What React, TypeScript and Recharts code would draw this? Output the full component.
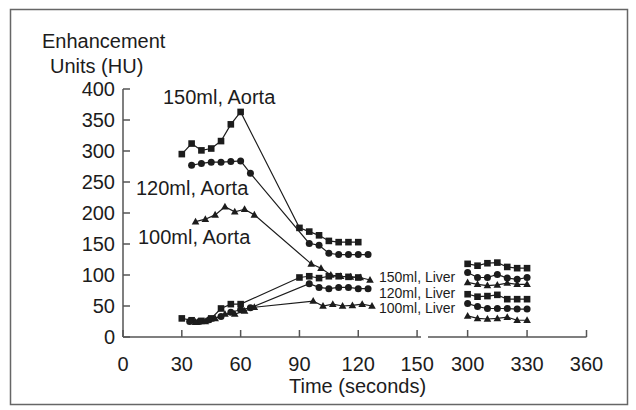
import { LineChart, Line, XAxis, YAxis } from "recharts";

// time (s) and enhancement (HU)
const earlyTicks = [0, 30, 60, 90, 120, 150];
const lateTicks = [300, 330, 360];
const huTicks = [0, 50, 100, 150, 200, 250, 300, 350, 400];

const aorta150Time = [30, 35, 40, 45, 50, 55, 60, 90, 95, 100, 105, 110, 115, 120];
const aorta150HU = [295, 312, 301, 304, 316, 343, 363, 176, 170, 164, 155, 153, 153, 153];

const aorta120Time = [35, 40, 45, 50, 55, 60, 65, 95, 100, 105, 110, 115, 120, 125];
const aorta120HU = [277, 280, 282, 282, 283, 284, 264, 151, 148, 135, 133, 133, 133, 133];

const aorta100Time = [37, 42, 47, 52, 57, 62, 67, 96, 101, 106, 111, 116, 121, 126];
const aorta100HU = [186, 190, 197, 210, 202, 206, 197, 118, 111, 100, 98, 97, 96, 92];

const liver150Time = [30, 35, 40, 45, 50, 55, 60, 90, 95, 100, 105, 110, 115, 120];
const liver150HU = [30, 27, 26, 30, 46, 53, 53, 96, 98, 95, 98, 98, 97, 96];

const liver120Time = [34, 39, 44, 50, 55, 60, 65, 95, 100, 105, 110, 115, 120, 125];
const liver120HU = [25, 25, 28, 33, 40, 44, 47, 86, 80, 78, 80, 80, 78, 78];

const liver100Time = [37, 42, 47, 52, 57, 62, 67, 97, 102, 107, 112, 117, 122, 127];
const liver100HU = [24, 25, 30, 37, 37, 42, 48, 58, 50, 53, 50, 51, 53, 50];

const lateTime = [300, 305, 310, 315, 320, 325, 330];
const lateAorta150 = [118, 115, 119, 120, 113, 111, 111];
const lateAorta120 = [104, 96, 96, 101, 95, 93, 96];
const lateAorta100 = [88, 85, 83, 84, 87, 85, 85];
const lateLiver150 = [69, 65, 66, 68, 61, 61, 61];
const lateLiver120 = [54, 49, 46, 46, 46, 45, 45];
const lateLiver100 = [34, 30, 29, 30, 32, 27, 27];

const toPoints = (times: number[], hu: number[]) =>
  times.map((t, i) => ({ t, hu: hu[i] }));

const ink = "#1c1c1c";
const axisColor = "#555";
const font = "'Liberation Sans', Arial, Helvetica, sans-serif";

type Kind = "square" | "circle" | "triangle";

const makeDot = (kind: Kind) => (props: any) => {
  const { cx, cy, index } = props;
  if (cx == null || cy == null) return <g key={index} />;
  if (kind === "square")
    return <rect key={index} x={cx - 3.3} y={cy - 3.3} width={6.6} height={6.6} fill={ink} />;
  if (kind === "circle")
    return <circle key={index} cx={cx} cy={cy} r={3.5} fill={ink} />;
  return (
    <polygon
      key={index}
      points={`${cx},${cy - 4} ${cx - 3.8},${cy + 2.8} ${cx + 3.8},${cy + 2.8}`}
      fill={ink}
    />
  );
};

const XTick = (props: any) => {
  const { x, y, payload } = props;
  return (
    <g>
      <line x1={x} y1={y} x2={x} y2={y - 7} stroke={axisColor} strokeWidth={1.5} />
      <text x={x} y={y + 34} textAnchor="middle" fill={ink} fontSize={20} fontFamily={font}>
        {payload.value}
      </text>
    </g>
  );
};

const YTick = (props: any) => {
  const { x, y, payload } = props;
  return (
    <g>
      <line x1={x} y1={y} x2={x + 7} y2={y} stroke={axisColor} strokeWidth={1.5} />
      <text x={x - 8} y={y + 7} textAnchor="end" fill={ink} fontSize={20} fontFamily={font}>
        {payload.value}
      </text>
    </g>
  );
};

const series: { time: number[]; hu: number[]; kind: Kind }[] = [
  { time: aorta150Time, hu: aorta150HU, kind: "square" },
  { time: aorta120Time, hu: aorta120HU, kind: "circle" },
  { time: aorta100Time, hu: aorta100HU, kind: "triangle" },
  { time: liver150Time, hu: liver150HU, kind: "square" },
  { time: liver120Time, hu: liver120HU, kind: "circle" },
  { time: liver100Time, hu: liver100HU, kind: "triangle" },
];

const lateSeries: { hu: number[]; kind: Kind }[] = [
  { hu: lateAorta150, kind: "square" },
  { hu: lateAorta120, kind: "circle" },
  { hu: lateAorta100, kind: "triangle" },
  { hu: lateLiver150, kind: "square" },
  { hu: lateLiver120, kind: "circle" },
  { hu: lateLiver100, kind: "triangle" },
];

const abs = { position: "absolute" as const, left: 0, top: 0 };

export default function App() {
  return (
    <div style={{ position: "absolute", left: 0, top: 0, width: 636, height: 410, background: "#fff" }}>
      <div style={abs}>
        <LineChart width={636} height={410} margin={{ top: 89, right: 215, bottom: 43, left: 63 }}>
          <XAxis
            type="number"
            dataKey="t"
            domain={[0, 152]}
            ticks={earlyTicks}
            allowDataOverflow
            height={30}
            tickSize={0}
            tickMargin={0}
            tickLine={false}
            tick={<XTick />}
            axisLine={{ stroke: axisColor, strokeWidth: 1.5 }}
          />
          <YAxis
            type="number"
            domain={[0, 400]}
            ticks={huTicks}
            width={60}
            tickSize={0}
            tickMargin={0}
            tickLine={false}
            tick={<YTick />}
            axisLine={{ stroke: axisColor, strokeWidth: 1.5 }}
          />
          {series.map((s, i) => (
            <Line
              key={i}
              data={toPoints(s.time, s.hu)}
              dataKey="hu"
              type="linear"
              stroke={ink}
              strokeWidth={1.2}
              dot={makeDot(s.kind)}
              activeDot={false}
              isAnimationActive={false}
            />
          ))}
        </LineChart>
      </div>
      <div style={abs}>
        <LineChart width={636} height={410} margin={{ top: 89, right: 49.5, bottom: 43, left: 428 }}>
          <XAxis
            type="number"
            dataKey="t"
            domain={[280, 360]}
            ticks={lateTicks}
            allowDataOverflow
            height={30}
            tickSize={0}
            tickMargin={0}
            tickLine={false}
            tick={<XTick />}
            axisLine={{ stroke: axisColor, strokeWidth: 1.5 }}
          />
          <YAxis type="number" domain={[0, 400]} hide />
          {lateSeries.map((s, i) => (
            <Line
              key={i}
              data={toPoints(lateTime, s.hu)}
              dataKey="hu"
              type="linear"
              stroke={ink}
              strokeWidth={1.2}
              dot={makeDot(s.kind)}
              activeDot={false}
              isAnimationActive={false}
            />
          ))}
        </LineChart>
      </div>
      <svg width={636} height={410} style={{ ...abs, pointerEvents: "none" }}>
        <rect x={10.5} y={9.5} width={617} height={395} fill="none" stroke="#666" strokeWidth={1.5} />
        <g fill={ink} fontFamily={font} fontSize={20}>
          <text x={42} y={48}>Enhancement</text>
          <text x={50} y={73}>Units (HU)</text>
          <text x={163} y={104}>150ml, Aorta</text>
          <text x={136} y={195}>120ml, Aorta</text>
          <text x={138} y={244}>100ml, Aorta</text>
          <text x={289} y={393}>Time (seconds)</text>
        </g>
        <g fill={ink} fontFamily={font} fontSize={14}>
          <text x={379} y={282}>150ml, Liver</text>
          <text x={379} y={298}>120ml, Liver</text>
          <text x={379} y={313}>100ml, Liver</text>
        </g>
      </svg>
    </div>
  );
}
